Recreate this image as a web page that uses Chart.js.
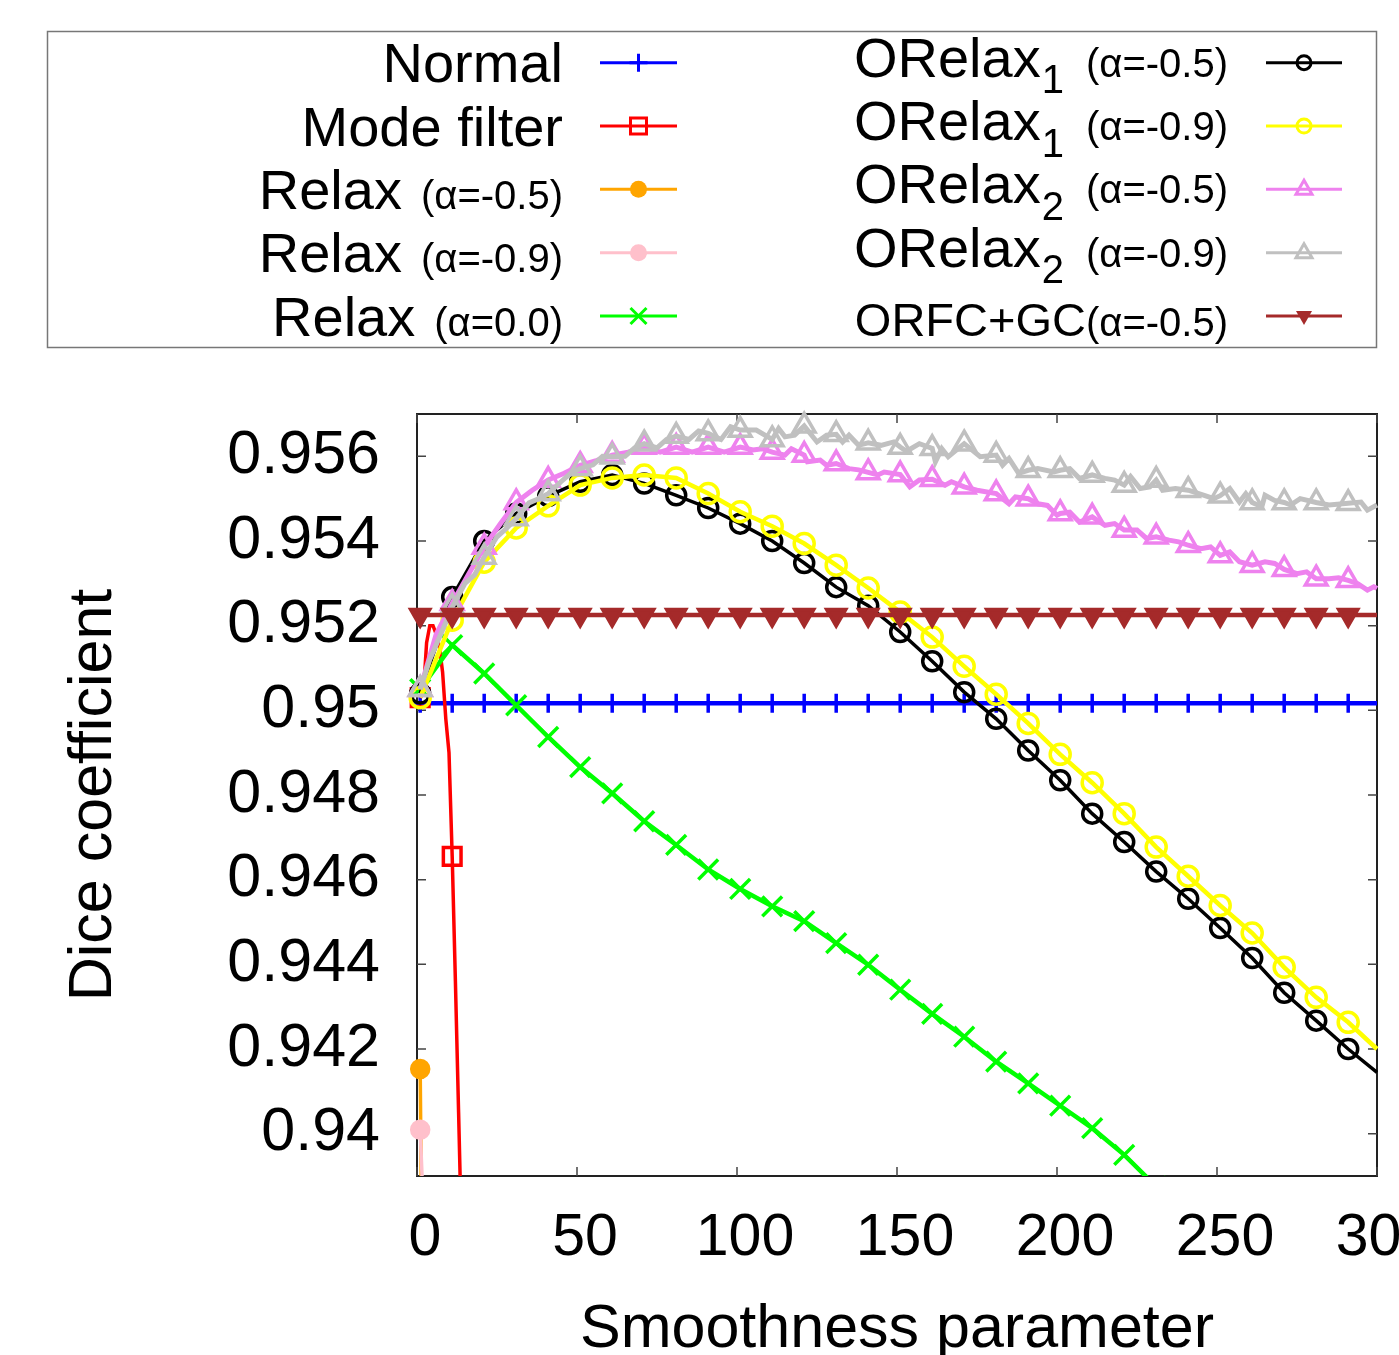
<!DOCTYPE html>
<html>
<head>
<meta charset="utf-8">
<title>Dice coefficient vs smoothness</title>
<script src="https://cdn.jsdelivr.net/npm/chart.js@4.4.0/dist/chart.umd.min.js"></script>
<style>
  html, body { margin: 0; padding: 0; background: #fff; }
  #wrap { position: relative; width: 1399px; height: 1355px; overflow: hidden; }
  #chart { position: absolute; left: 0; top: 0; }
  #legend { position: absolute; left: 0; top: 0; }
  #legend text { font-family: "Liberation Sans", Arial, Helvetica, sans-serif; fill: #000; }
</style>
</head>
<body>
<div id="wrap">
  <canvas id="chart" width="1399" height="1355"></canvas>
  <svg id="legend" width="1399" height="360"></svg>
</div>
<script>
// axis ticks
const xTicks = [0, 50, 100, 150, 200, 250, 300];
const yTicks = [0.94, 0.942, 0.944, 0.946, 0.948, 0.95, 0.952, 0.954, 0.956];
const yTickLabels = ['0.94', '0.942', '0.944', '0.946', '0.948', '0.95', '0.952', '0.954', '0.956'];

// x positions shared by the series sampled at the marker points
const markX = [1, 11, 21, 31, 41, 51, 61, 71, 81, 91, 101, 111, 121, 131, 141, 151, 161, 171, 181, 191, 201, 211, 221, 231, 241, 251, 261, 271, 281, 291, 300];

const normalY = [0.95017, 0.95017, 0.95017, 0.95017, 0.95017, 0.95017, 0.95017, 0.95017, 0.95017, 0.95017, 0.95017, 0.95017, 0.95017, 0.95017, 0.95017, 0.95017, 0.95017, 0.95017, 0.95017, 0.95017, 0.95017, 0.95017, 0.95017, 0.95017, 0.95017, 0.95017, 0.95017, 0.95017, 0.95017, 0.95017, 0.95017];
const orfcY = [0.95225, 0.95225, 0.95225, 0.95225, 0.95225, 0.95225, 0.95225, 0.95225, 0.95225, 0.95225, 0.95225, 0.95225, 0.95225, 0.95225, 0.95225, 0.95225, 0.95225, 0.95225, 0.95225, 0.95225, 0.95225, 0.95225, 0.95225, 0.95225, 0.95225, 0.95225, 0.95225, 0.95225, 0.95225, 0.95225, 0.95225];
const relax00Y = [0.9505, 0.95154, 0.95087, 0.95012, 0.94937, 0.94866, 0.94804, 0.94738, 0.94682, 0.94624, 0.94578, 0.94537, 0.94502, 0.9445, 0.94399, 0.9434, 0.94283, 0.94229, 0.9417, 0.94119, 0.94066, 0.94013, 0.9395, 0.93875, 0.938, 0.9373, 0.9366, 0.9359, 0.9352, 0.9345, 0.9339];
const orelax1aY = [0.9504, 0.95268, 0.954, 0.95465, 0.95506, 0.9554, 0.95556, 0.95536, 0.95508, 0.95478, 0.95441, 0.954, 0.95348, 0.95291, 0.95247, 0.95185, 0.95116, 0.95043, 0.9498, 0.94905, 0.94835, 0.94756, 0.94689, 0.94619, 0.94555, 0.94486, 0.94415, 0.94333, 0.94267, 0.942, 0.94145];
const orelax1bY = [0.9503, 0.95213, 0.9535, 0.95431, 0.95483, 0.95532, 0.95549, 0.95556, 0.95549, 0.95512, 0.95469, 0.95435, 0.95394, 0.95343, 0.95289, 0.95232, 0.95173, 0.95104, 0.95038, 0.94969, 0.94896, 0.94829, 0.94756, 0.94677, 0.94608, 0.94539, 0.94474, 0.94393, 0.94322, 0.94263, 0.942];

// series with their own x positions
const modeX = [1, 2, 3, 4, 5, 6, 7, 8, 9, 10, 11, 12, 13, 14, 15];
const modeY = [0.9503, 0.9504, 0.9516, 0.952, 0.952, 0.9518, 0.9515, 0.9509, 0.9498, 0.949, 0.94655, 0.9436, 0.9405, 0.9373, 0.934];
const relaxX = [1, 2, 3];
const relax05Y = [0.94153, 0.933, 0.925];
const relax09Y = [0.94009, 0.9382, 0.93];

const orelax2aX = [1, 6, 11, 16, 21, 26, 31, 36, 41, 46, 51, 56, 61, 66, 71, 76, 81, 86, 91, 96, 101, 105, 108, 111, 115, 117, 121, 122, 126, 128, 131, 135, 138, 141, 144, 146, 151, 154, 157, 161, 165, 167, 171, 175, 181, 185, 187, 191, 194, 197, 200, 201, 204, 207, 211, 215, 218, 221, 225, 228, 231, 235, 238, 241, 245, 248, 251, 254, 257, 261, 265, 268, 271, 275, 278, 281, 285, 288, 291, 294, 297, 299, 300];
const orelax2aY = [0.9505, 0.9518, 0.95253, 0.9532, 0.95386, 0.9544, 0.95491, 0.9552, 0.95544, 0.9556, 0.95579, 0.9559, 0.95603, 0.9561, 0.95622, 0.9561, 0.95622, 0.9561, 0.95622, 0.9561, 0.95622, 0.95615, 0.95618, 0.9561, 0.95603, 0.95618, 0.95603, 0.95587, 0.95591, 0.95579, 0.95583, 0.95571, 0.95568, 0.95562, 0.95556, 0.95563, 0.95557, 0.95528, 0.95544, 0.95546, 0.95532, 0.9554, 0.95528, 0.9552, 0.95512, 0.95488, 0.95504, 0.955, 0.95488, 0.95484, 0.95461, 0.95465, 0.95468, 0.95445, 0.95457, 0.95437, 0.95441, 0.95426, 0.95426, 0.95406, 0.9541, 0.95402, 0.95398, 0.9539, 0.95382, 0.95386, 0.95366, 0.95374, 0.95351, 0.95343, 0.95351, 0.95347, 0.95333, 0.95323, 0.95327, 0.95311, 0.95311, 0.95313, 0.95307, 0.95299, 0.95284, 0.95292, 0.95288];

const orelax2bX = [1, 4, 8, 11, 15, 18, 21, 25, 28, 31, 35, 38, 41, 45, 48, 51, 55, 58, 61, 65, 68, 71, 75, 78, 81, 85, 88, 91, 95, 98, 101, 106, 111, 113, 115, 118, 121, 125, 128, 131, 133, 135, 138, 141, 145, 149, 151, 153, 157, 161, 162, 164, 166, 171, 176, 181, 183, 185, 188, 191, 194, 199, 201, 204, 207, 211, 215, 218, 221, 223, 226, 229, 231, 233, 237, 241, 246, 249, 251, 254, 257, 259, 261, 264, 265, 268, 271, 273, 276, 281, 285, 291, 295, 297, 300];
const orelax2bY = [0.9505, 0.9512, 0.9519, 0.95244, 0.953, 0.9532, 0.95362, 0.9541, 0.9543, 0.95453, 0.9549, 0.955, 0.95512, 0.9554, 0.9556, 0.95571, 0.9558, 0.956, 0.95599, 0.956, 0.9562, 0.9563, 0.9562, 0.9564, 0.95648, 0.9564, 0.9566, 0.95654, 0.9564, 0.9567, 0.95662, 0.95662, 0.9564, 0.95666, 0.95646, 0.9565, 0.95672, 0.95634, 0.9565, 0.95652, 0.95634, 0.9565, 0.95626, 0.95632, 0.95626, 0.95634, 0.95622, 0.95612, 0.9563, 0.95619, 0.95587, 0.95618, 0.95599, 0.9563, 0.95599, 0.95603, 0.95579, 0.95595, 0.9556, 0.95567, 0.95571, 0.95563, 0.95567, 0.95571, 0.95548, 0.95556, 0.95548, 0.95544, 0.95532, 0.95552, 0.95524, 0.95528, 0.95544, 0.9552, 0.95524, 0.9552, 0.95508, 0.955, 0.95507, 0.95524, 0.95492, 0.95512, 0.95491, 0.95481, 0.95508, 0.95496, 0.95491, 0.95485, 0.955, 0.95491, 0.95485, 0.95489, 0.95492, 0.95473, 0.95485];

// legend text pieces
const legendNames = ['Normal', 'Mode filter', 'Relax', 'Relax', 'Relax', 'ORelax', 'ORelax', 'ORelax', 'ORelax', 'ORFC+GC'];
const legendSubs = ['', '', '', '', '', '1', '1', '2', '2', ''];
const legendNotes = ['', '', '(α=-0.5)', '(α=-0.9)', '(α=0.0)', '(α=-0.5)', '(α=-0.9)', '(α=-0.5)', '(α=-0.9)', '(α=-0.5)'];
const seriesColors = ['#0000ff', '#ff0000', '#ffa500', '#ffc0cb', '#00ff00', '#000000', '#ffff00', '#ee82ee', '#c0c0c0', '#a52a2a'];
const legendMarks = ['plus', 'square', 'dot', 'dot', 'x', 'circle', 'circle', 'triangle', 'triangle', 'triangleDown'];

const family = '"Liberation Sans", Arial, Helvetica, sans-serif';

function pts(xs, ys) {
  return xs.map((x, i) => ({ x: x, y: ys[i] }));
}

// markers only every 10th sample (x = 1, 11, 21, ...)
function every10(r) {
  return ctx => (ctx.raw && (ctx.raw.x - 1) % 10 === 0) ? r : 0;
}

function series(i, xs, ys, style, radius, filled, width, rotation) {
  const c = seriesColors[i];
  return {
    label: legendNames[i] + legendSubs[i] + (legendNotes[i] ? ' ' + legendNotes[i] : ''),
    data: pts(xs, ys),
    borderColor: c,
    backgroundColor: c,
    borderWidth: width,
    pointStyle: style,
    pointRotation: rotation || 0,
    pointRadius: every10(radius),
    pointBorderColor: c,
    pointBackgroundColor: filled ? c : 'rgba(0,0,0,0)',
    pointBorderWidth: 3.5,
    tension: 0,
    clip: { left: 15, top: 5, right: 5, bottom: 0 },
    order: 20 - i
  };
}

const datasets = [
  series(0, markX, normalY, 'cross', 9.5, false, 4.5),
  series(1, modeX, modeY, 'rect', 12.5, false, 3.5),
  series(2, relaxX, relax05Y, 'circle', 8.5, true, 3.5),
  series(3, relaxX, relax09Y, 'circle', 8.5, true, 3.5),
  series(4, markX, relax00Y, 'crossRot', 14, false, 4.5),
  series(5, markX, orelax1aY, 'circle', 9.5, false, 3.5),
  series(6, markX, orelax1bY, 'circle', 10, false, 4.5),
  series(7, orelax2aX, orelax2aY, 'triangle', 12.5, false, 5),
  series(8, orelax2bX, orelax2bY, 'triangle', 12.5, false, 5),
  series(9, markX, orfcY, 'triangle', 11, true, 4.5, 180)
];

// gnuplot style frame with inward ticks
const framePlugin = {
  id: 'frame',
  beforeDatasetsDraw(chart) {
    const { ctx, chartArea: a } = chart;
    const sx = chart.scales.x, sy = chart.scales.y;
    ctx.save();
    ctx.strokeStyle = '#222';
    ctx.lineWidth = 2;
    ctx.strokeRect(a.left, a.top, a.right - a.left, a.bottom - a.top);
    ctx.lineWidth = 1.5;
    ctx.strokeStyle = '#444';
    ctx.beginPath();
    yTicks.forEach(v => {
      const p = sy.getPixelForValue(v);
      ctx.moveTo(a.left, p); ctx.lineTo(a.left + 9, p);
      ctx.moveTo(a.right, p); ctx.lineTo(a.right - 9, p);
    });
    xTicks.forEach(v => {
      const p = sx.getPixelForValue(v);
      ctx.moveTo(p, a.bottom); ctx.lineTo(p, a.bottom - 9);
      ctx.moveTo(p, a.top); ctx.lineTo(p, a.top + 9);
    });
    ctx.stroke();
    ctx.restore();
  }
};

new Chart(document.getElementById('chart').getContext('2d'), {
  type: 'line',
  data: { datasets: datasets },
  options: {
    responsive: false,
    animation: false,
    events: [],
    layout: { padding: { top: 414, right: 22, left: 0, bottom: 0 } },
    plugins: { legend: { display: false }, tooltip: { enabled: false } },
    scales: {
      x: {
        type: 'linear',
        min: 0,
        max: 300,
        afterBuildTicks: s => { s.ticks = xTicks.map(v => ({ value: v })); },
        afterFit: s => { s.height = 179; s.paddingLeft = 0; s.paddingRight = 0; },
        grid: { display: false, drawTicks: false },
        border: { display: false },
        ticks: {
          color: '#000',
          font: { family: family, size: 59 },
          padding: 27,
          labelOffset: 8,
          maxRotation: 0,
          autoSkip: false
        },
        title: {
          display: true,
          text: 'Smoothness parameter',
          color: '#000',
          font: { family: family, size: 61, lineHeight: 0.8 },
          padding: { top: 0, bottom: 0 }
        }
      },
      y: {
        type: 'linear',
        min: 0.939,
        max: 0.957,
        afterBuildTicks: s => { s.ticks = yTicks.map(v => ({ value: v })); },
        afterFit: s => { s.width = 417; s.paddingTop = 0; s.paddingBottom = 0; },
        grid: { display: false, drawTicks: false },
        border: { display: false },
        ticks: {
          color: '#000',
          font: { family: family, size: 61 },
          padding: 37,
          autoSkip: false,
          callback: (value, index) => yTickLabels[index]
        },
        title: {
          display: true,
          text: 'Dice coefficient',
          color: '#000',
          font: { family: family, size: 61, lineHeight: 1 },
          padding: { top: 64, bottom: 0 }
        }
      }
    }
  },
  plugins: [framePlugin]
});

// legend (two columns, text right aligned, sample line on the right)
const svgNS = 'http://www.w3.org/2000/svg';
const svg = document.getElementById('legend');
function el(name, attrs, parent) {
  const e = document.createElementNS(svgNS, name);
  for (const k in attrs) e.setAttribute(k, attrs[k]);
  (parent || svg).appendChild(e);
  return e;
}

el('rect', { x: 47.5, y: 31.5, width: 1329, height: 316, fill: 'none', stroke: '#777', 'stroke-width': 1.5 });

const rowY = [62.7, 126, 189.3, 252.7, 316];

function drawMark(kind, cx, cy, c) {
  const s = { stroke: c, 'stroke-width': 3, fill: 'none' };
  if (kind === 'plus') {
    el('path', Object.assign({ d: `M${cx - 9} ${cy}H${cx + 9}M${cx} ${cy - 9}V${cy + 9}` }, s));
  } else if (kind === 'x') {
    el('path', Object.assign({ d: `M${cx - 8} ${cy - 8}L${cx + 8} ${cy + 8}M${cx - 8} ${cy + 8}L${cx + 8} ${cy - 8}` }, s));
  } else if (kind === 'square') {
    el('rect', Object.assign({ x: cx - 8, y: cy - 8, width: 16, height: 16 }, s));
  } else if (kind === 'dot') {
    el('circle', { cx: cx, cy: cy, r: 8.5, fill: c });
  } else if (kind === 'circle') {
    el('circle', Object.assign({ cx: cx, cy: cy, r: 7 }, s));
  } else if (kind === 'triangle') {
    el('path', Object.assign({ d: `M${cx} ${cy - 9}L${cx + 8} ${cy + 5}L${cx - 8} ${cy + 5}Z` }, s));
  } else if (kind === 'triangleDown') {
    el('path', { d: `M${cx} ${cy + 9}L${cx + 8} ${cy - 5}L${cx - 8} ${cy - 5}Z`, fill: c });
  }
}

legendNames.forEach((name, i) => {
  const col = i < 5 ? 0 : 1;
  const y = rowY[i % 5];
  const textRight = col === 0 ? 563 : 1228;
  const x1 = col === 0 ? 600 : 1266;
  const x2 = col === 0 ? 677 : 1342;
  const sub = legendSubs[i];
  const note = legendNotes[i];
  const mainSize = name === 'ORFC+GC' ? 47 : 56;
  const base = y + (sub ? 14 : 19.6);

  const t = el('text', { x: textRight, y: base, 'text-anchor': 'end', 'font-size': mainSize });
  el('tspan', {}, t).textContent = name;
  if (sub) el('tspan', { 'font-size': 40, dy: 16.6, dx: 1 }, t).textContent = sub;
  if (note) {
    const gap = sub ? 22 : (name === 'ORFC+GC' ? 0 : 19);
    el('tspan', { 'font-size': 40, dy: sub ? -16.6 : 0, dx: gap }, t).textContent = note;
  }

  el('line', { x1: x1, y1: y, x2: x2, y2: y, stroke: seriesColors[i], 'stroke-width': 3 });
  drawMark(legendMarks[i], (x1 + x2) / 2, y, seriesColors[i]);
});
</script>
</body>
</html>
